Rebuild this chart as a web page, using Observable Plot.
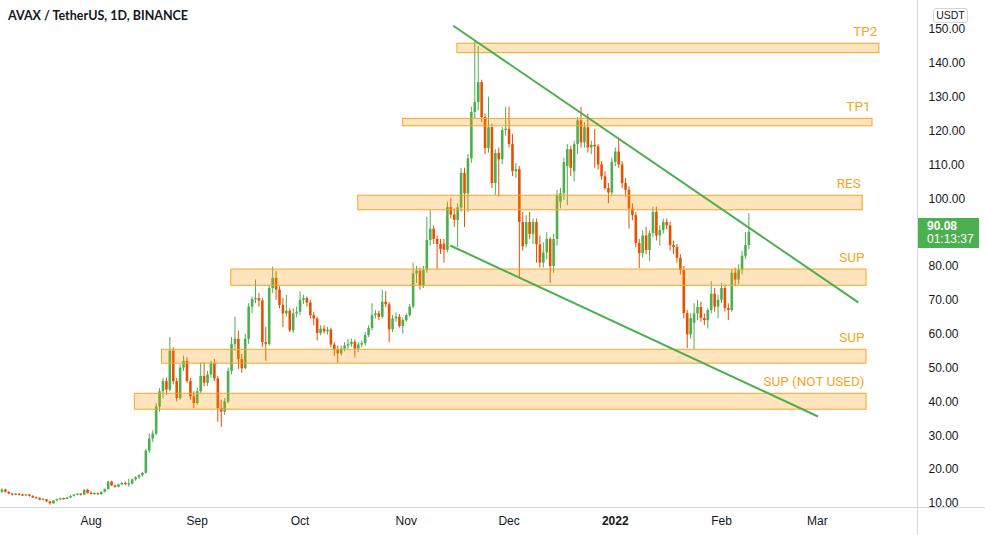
<!DOCTYPE html>
<html>
<head>
<meta charset="utf-8">
<script src="https://cdn.jsdelivr.net/npm/d3@7"></script>
<script src="https://cdn.jsdelivr.net/npm/@observablehq/plot@0.6"></script>
<style>
html, body { margin: 0; padding: 0; background: #ffffff; }
#wrap { position: relative; width: 985px; height: 535px; overflow: hidden; font-family: "Liberation Sans", Arial, sans-serif; }
#wrap svg { position: absolute; left: 0; top: 0; }
#title { position: absolute; left: 8px; top: 8px; font-family: Lato, "Liberation Sans", sans-serif; font-weight: 700; font-size: 12.5px; color: #131722; white-space: nowrap; }
#quote { position: absolute; left: 933px; top: 8px; width: 33px; height: 13px; border: 1px solid #d1d4dc; border-radius: 3px; font-size: 10.5px; line-height: 13px; text-align: center; color: #131722; background: #fff; }
#tag { position: absolute; left: 918px; width: 61px; height: 30px; background: #4caf50; color: #fff; font-size: 12px; line-height: 13px; box-sizing: border-box; padding: 2px 0 0 9px; }
#tag b { display: block; }
</style>
</head>
<body>
<div id="wrap">
  <div id="title"></div>
  <div id="quote"></div>
  <div id="tag"></div>
</div>
<script>
// ---------- data ----------
const titleText = "AVAX / TetherUS, 1D, BINANCE";
const quoteCurrency = "USDT";
const firstDay = "2021-07-05"; // one candle per day from here
const opens = [12.9,13.3,14.0,13.3,12.8,12.5,12.7,12.4,12.3,12.5,12.1,11.6,11.5,11.0,11.1,10.5,9.9,10.8,11.1,11.4,11.2,11.6,12.1,12.5,12.7,12.5,13.9,
13.0,12.7,12.9,12.6,13.3,14.1,16.3,15.2,14.8,15.5,15.9,15.6,15.7,17.0,17.6,18.2,18.9,25.5,29.0,30.5,38.5,43.0,46.0,43.5,55.0,46.0,41.0,50.0,52.0,46.0,41.5,
39.5,43.0,47.5,45.5,48.0,51.3,46.8,38.0,37.0,40.0,49.0,57.0,58.5,52.5,49.8,58.5,68.0,70.2,70.5,69.8,57.5,57.0,73.5,76.5,73.0,68.5,66.0,66.8,61.0,66.0,
66.5,70.0,70.5,69.2,65.5,64.5,60.2,61.5,60.7,61.2,56.8,55.3,54.2,55.6,56.5,57.0,57.6,55.6,56.8,57.2,59.6,61.7,65.5,66.0,65.0,69.4,68.7,61.3,64.5,65.0,62.3,
64.0,65.5,68.0,77.8,78.6,74.2,78.8,87.7,91.0,88.0,86.5,86.6,84.8,97.4,95.2,93.6,97.3,107.5,101.5,111.8,125.5,128.4,134.3,124.0,114.8,121.0,104.5,113.4,111.5,120.2,
120.5,116.0,108.0,108.6,93.0,86.5,93.0,89.5,93.0,86.4,81.0,84.0,88.0,80.0,88.0,99.0,101.5,109.5,114.5,108.0,116.0,123.0,116.5,121.0,115.0,115.8,115.3,110.0,106.5,103.0,101.7,
110.8,113.8,110.0,104.5,102.5,97.0,95.0,86.8,83.8,89.0,84.7,89.7,96.0,89.0,90.6,93.0,92.0,86.2,85.6,82.4,78.8,66.1,59.8,63.2,66.0,67.9,64.6,64.0,67.0,71.8,68.0,
70.0,73.5,67.6,67.0,78.0,76.0,78.8,83.0,86.2];
const highs = [13.6,14.3,14.2,13.5,13.0,12.9,12.9,12.7,12.7,12.6,12.3,11.9,11.7,11.4,11.2,10.7,10.9,11.3,11.6,11.6,11.8,12.3,12.6,12.9,12.9,14.1,14.2,
13.4,13.1,13.1,13.4,14.3,16.5,16.6,15.5,15.7,16.2,16.3,17.2,17.2,17.9,18.5,19.2,26.0,30.5,31.5,39.5,44.0,47.0,47.0,59.0,56.0,47.0,51.0,53.5,53.0,47.0,43.0,
44.0,51.5,51.5,49.0,52.0,52.5,47.5,40.5,41.0,50.0,59.0,65.0,61.0,54.0,60.0,69.0,71.0,76.0,72.0,70.5,62.0,74.5,79.8,78.5,74.0,70.5,71.5,67.5,67.5,68.0,
72.5,71.5,71.0,70.0,66.5,65.0,62.5,62.5,62.0,61.8,57.5,56.5,56.5,57.5,58.5,58.5,58.3,57.5,58.0,60.5,62.5,69.0,67.0,66.8,73.0,72.5,69.3,65.5,66.3,65.8,64.8,
66.0,68.8,81.0,80.0,79.5,80.0,94.5,96.5,92.0,89.0,88.0,88.0,99.0,100.0,97.0,98.5,109.0,109.0,113.0,127.0,146.7,145.0,135.0,125.0,130.0,122.0,114.5,115.0,121.0,127.0,
127.0,119.0,110.5,109.5,96.0,95.0,96.0,94.0,94.0,89.0,87.0,90.0,88.5,89.5,102.5,103.0,112.0,116.0,115.5,117.0,124.0,127.0,122.5,125.0,117.0,120.5,116.0,111.0,108.0,104.5,112.0,
115.0,118.0,111.0,106.0,103.5,98.5,96.0,88.0,90.5,91.5,90.5,97.5,97.5,92.0,94.0,94.0,93.0,87.5,86.5,83.5,80.0,67.0,66.0,69.0,70.0,69.5,66.0,67.5,75.5,73.5,71.5,
75.0,74.5,69.0,79.0,79.5,80.5,84.5,90.0,95.6];
const lows = [12.6,13.0,13.1,12.6,12.2,12.3,12.2,12.1,12.1,11.9,11.5,11.3,10.8,10.8,10.3,9.5,9.8,10.5,10.9,11.0,11.1,11.5,11.9,12.3,12.2,12.4,12.8,
12.5,12.4,12.4,12.5,13.1,14.0,15.0,14.5,14.6,15.3,15.2,14.8,15.5,16.6,17.2,17.8,18.7,24.8,28.0,30.0,37.0,41.0,42.0,43.0,45.0,40.0,40.5,49.0,45.5,40.5,38.0,
39.0,42.5,44.5,44.5,47.0,46.0,34.0,32.5,36.0,39.5,48.0,55.0,49.5,48.5,49.5,57.0,66.0,69.0,68.0,56.0,52.0,56.5,72.0,70.0,67.5,62.0,65.0,60.5,60.2,64.8,
65.5,68.8,68.0,64.5,62.5,58.0,59.5,60.0,59.8,56.0,53.5,51.3,53.5,54.8,55.5,56.2,53.0,54.5,56.0,56.5,59.0,61.0,64.5,64.0,64.5,67.8,57.5,60.5,63.5,61.8,60.0,
63.5,65.0,67.5,75.0,73.0,73.5,78.0,86.0,86.5,79.0,83.5,81.0,84.0,94.0,91.5,85.6,96.0,91.5,96.0,110.5,123.5,126.0,122.5,113.0,113.5,103.0,101.0,100.5,110.0,118.5,
115.0,106.5,106.0,76.7,84.5,85.5,88.0,86.5,81.0,79.5,79.5,82.0,75.0,78.0,86.0,97.0,99.5,98.0,106.5,105.0,113.0,115.0,115.0,113.5,113.0,109.0,108.5,105.5,102.5,98.5,101.0,
109.5,109.0,103.0,100.5,91.0,93.5,85.5,79.4,82.5,83.5,81.5,88.5,87.5,86.0,89.5,90.8,84.5,83.5,81.0,77.5,64.5,55.8,58.5,55.5,64.0,63.5,62.5,61.5,66.0,66.5,64.5,
69.0,66.5,64.0,66.5,74.0,74.5,77.5,82.0,85.0];
const closes = [13.3,14.0,13.3,12.8,12.5,12.7,12.4,12.3,12.5,12.1,11.6,11.5,11.0,11.1,10.5,9.9,10.8,11.1,11.4,11.2,11.6,12.1,12.5,12.7,12.5,13.9,13.0,
12.7,12.9,12.6,13.3,14.1,16.3,15.2,14.8,15.5,15.9,15.6,15.7,17.0,17.6,18.2,18.9,25.5,29.0,30.5,38.5,43.0,46.0,43.5,55.0,46.0,41.0,50.0,52.0,46.0,41.5,39.5,
43.0,47.5,45.5,48.0,51.3,46.8,38.0,37.0,40.0,49.0,57.0,58.5,52.5,49.8,58.5,68.0,70.2,70.5,69.8,57.5,57.0,73.5,76.5,73.0,68.5,66.0,66.8,61.0,66.0,66.5,
70.0,70.5,69.2,65.5,64.5,60.2,61.5,60.7,61.2,56.8,55.3,54.2,55.6,56.5,57.0,57.6,55.6,56.8,57.2,59.6,61.7,65.5,66.0,65.0,69.4,68.7,61.3,64.5,65.0,62.3,64.0,
65.5,68.0,77.8,78.6,74.2,78.8,87.7,91.0,88.0,86.5,85.0,84.8,97.4,95.2,93.6,97.3,107.5,101.5,111.8,125.5,128.4,134.3,124.0,114.8,121.0,104.5,113.4,111.5,120.2,120.5,
116.0,108.0,108.6,93.0,85.8,93.0,89.5,93.0,86.4,81.0,84.0,88.0,80.0,88.0,101.0,101.5,110.7,114.5,109.0,116.0,123.0,116.5,121.0,115.0,115.8,115.3,110.0,106.5,103.0,101.7,110.8,
113.8,110.0,104.5,102.5,97.0,95.0,86.8,83.8,89.0,84.7,89.7,96.0,89.0,90.6,93.0,92.0,86.2,85.6,82.4,78.8,66.1,59.8,64.6,66.0,67.9,64.6,64.0,67.0,71.8,68.0,70.0,
73.5,67.6,67.0,78.0,76.0,78.8,83.0,86.2,90.08];

const zoneNames = ["TP2", "TP1", "RES", "SUP", "SUP", "SUP (NOT USED)"];
const zoneLow   = [143.0, 121.4, 96.6, 74.3, 51.3, 37.7];
const zoneHigh  = [145.8, 123.6, 100.9, 79.1, 55.4, 42.4];
const zoneStart = ["2021-11-15T22:00Z", "2021-10-31T02:00Z", "2021-10-18T00:00Z", "2021-09-10T22:00Z", "2021-08-21T17:00Z", "2021-08-13T19:00Z"];
const zoneEnd   = ["2022-03-19T02:00Z", "2022-03-17T02:00Z", "2022-03-14T05:00Z", "2022-03-15T08:00Z", "2022-03-15T08:00Z", "2022-03-15T08:00Z"];

const trendStartDate  = ["2021-11-14T17:00Z", "2021-11-13T20:00Z"];
const trendEndDate    = ["2022-03-12T22:00Z", "2022-03-01T04:00Z"];
const trendStartPrice = [151.1, 86.2];
const trendEndPrice   = [69.4, 35.7];

const monthTicks  = ["2021-08-01", "2021-09-01", "2021-10-01", "2021-11-01", "2021-12-01", "2022-01-01", "2022-02-01", "2022-03-01"];
const monthLabels = ["Aug", "Sep", "Oct", "Nov", "Dec", "2022", "Feb", "Mar"];
// price-axis labels shown (90.00 sits under the last-price tag)
const priceTicks  = [10, 20, 30, 40, 50, 60, 70, 80, 100, 110, 120, 130, 140, 150];
const lastPrice = 90.08;
const countdown = "01:13:37";

// ---------- build ----------
const UP = "#4caf50", DOWN = "#e65100";
const start = new Date(firstDay + "T00:00Z");
const candles = opens.map((o, i) => {
  const c = closes[i];
  let b1 = Math.min(o, c), b2 = Math.max(o, c);
  if (b2 - b1 < 0.35) { const m = (b1 + b2) / 2; b1 = m - 0.18; b2 = m + 0.18; }
  return {date: d3.utcDay.offset(start, i), open: o, high: highs[i], low: lows[i], close: c, b1, b2, color: c >= o ? UP : DOWN};
});
const zones = zoneNames.map((n, i) => ({name: n, low: zoneLow[i], high: zoneHigh[i], start: new Date(zoneStart[i]), end: new Date(zoneEnd[i])}));
const trends = trendStartDate.map((d, i) => ({x1: new Date(d), x2: new Date(trendEndDate[i]), y1: trendStartPrice[i], y2: trendEndPrice[i]}));
const tickDates = monthTicks.map(s => new Date(s + "T00:00Z"));
const labelByTime = new Map(tickDates.map((d, i) => [+d, monthLabels[i]]));
const normalTicks = tickDates.filter((d, i) => !/^\d{4}$/.test(monthLabels[i]));
const yearTicks = tickDates.filter((d, i) => /^\d{4}$/.test(monthLabels[i]));

const xDomain = [new Date("2021-07-05T13:45Z"), new Date("2022-03-30T05:00Z")];
const yDomain = [8.819, 158.553];
const AXIS = "#d6d9e0";

const chart = Plot.plot({
  width: 985,
  height: 535,
  marginLeft: 0,
  marginRight: 68,
  marginTop: 0,
  marginBottom: 28,
  style: {fontFamily: "'Liberation Sans', Arial, sans-serif", fontSize: "12px", color: "#131722", background: "transparent", overflow: "visible"},
  x: {type: "utc", domain: xDomain},
  y: {type: "linear", domain: yDomain},
  marks: [
    Plot.ruleX(candles, {x: "date", y1: "low", y2: "high", stroke: "color", strokeWidth: 1}),
    Plot.ruleX(candles, {x: "date", y1: "b1", y2: "b2", stroke: "color", strokeWidth: 2.6, strokeLinecap: "butt"}),
    Plot.rect(zones, {x1: "start", x2: "end", y1: "low", y2: "high", fill: "#ff9800", fillOpacity: 0.26, stroke: "#f5a524", strokeWidth: 1}),
    Plot.text(zones, {x: "end", y: "high", text: "name", dx: -2, dy: -12, textAnchor: "end", fill: "#f5a524", fontSize: 13.5, fontFamily: "Roboto, 'Liberation Sans', sans-serif"}),
    Plot.link(trends, {x1: "x1", y1: "y1", x2: "x2", y2: "y2", stroke: "#4caf50", strokeWidth: 2}),
    Plot.ruleX([xDomain[1]], {stroke: AXIS, strokeWidth: 1, insetBottom: -28}),
    Plot.ruleY([yDomain[0]], {stroke: AXIS, strokeWidth: 1, insetRight: -68}),
    Plot.axisY(priceTicks, {anchor: "right", tickSize: 0, tickPadding: 11, tickFormat: d => d.toFixed(2), fill: "#131722", fontSize: 12}),
    Plot.axisX(normalTicks, {anchor: "bottom", tickSize: 0, tickPadding: 9, tickFormat: d => labelByTime.get(+d), fill: "#131722", fontSize: 12}),
    Plot.axisX(yearTicks, {anchor: "bottom", tickSize: 0, tickPadding: 9, tickFormat: d => labelByTime.get(+d), fill: "#131722", fontSize: 12, fontWeight: "bold"})
  ]
});

const wrap = document.getElementById("wrap");
wrap.insertBefore(chart, wrap.firstChild);
document.getElementById("title").textContent = titleText;
document.getElementById("quote").textContent = quoteCurrency;
const tag = document.getElementById("tag");
tag.innerHTML = "<b></b><span></span>";
tag.querySelector("b").textContent = lastPrice.toFixed(2);
tag.querySelector("span").textContent = countdown;
tag.style.top = (chart.scale("y").apply(lastPrice) - 14) + "px";
</script>
</body>
</html>
